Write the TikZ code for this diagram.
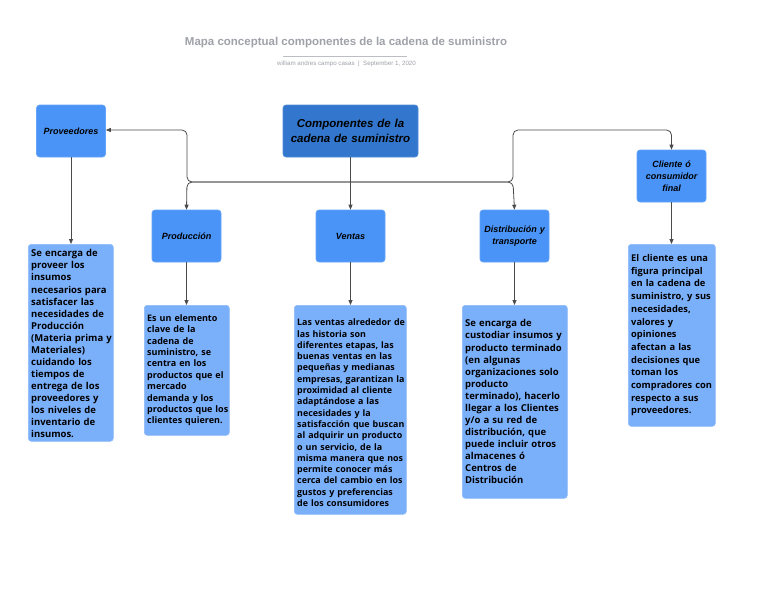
\documentclass[tikz,border=0pt]{standalone}
\usepackage{fontspec}
\setmainfont{Liberation Sans}
\newfontfamily\bodyfont{Open Sans}
\usetikzlibrary{arrows.meta}
\definecolor{hdrblue}{RGB}{74,148,247}
\definecolor{mainblue}{RGB}{50,119,205}
\definecolor{txtblue}{RGB}{122,175,250}
\definecolor{linegray}{RGB}{75,75,75}
\definecolor{titlegray}{RGB}{160,162,170}
\begin{document}
\begin{tikzpicture}[x=1pt,y=-1pt,
  hdr/.style={draw=hdrblue!85!white, line width=0.6pt, fill=hdrblue, rounded corners=3pt, minimum width=69pt, minimum height=52pt, inner sep=2pt, align=center, font=\fontsize{9}{12}\selectfont\bfseries\itshape, text width=64pt},
  mainbox/.style={draw=mainblue!85!white, line width=0.6pt, fill=mainblue, rounded corners=3pt, minimum width=135pt, minimum height=52pt, inner sep=2pt, align=center, font=\fontsize{11.5}{15}\selectfont\bfseries\itshape, text width=130pt},
  tbox/.style={draw=txtblue!85!white, line width=0.6pt, fill=txtblue, rounded corners=3pt, inner sep=0pt, anchor=north west},
  txt/.style={inner sep=0pt, anchor=west, align=left, text width=140pt},
  fa/.style={font=\bodyfont\fontsize{9.5}{12.07}\selectfont\bfseries},
  fb/.style={font=\bodyfont\fontsize{9.0}{11.4}\selectfont\bfseries},
  fc/.style={font=\bodyfont\fontsize{8.9}{11.3}\selectfont\bfseries},
  fd/.style={font=\bodyfont\fontsize{9.3}{12.7}\selectfont\bfseries},
  conn/.style={draw=linegray, line width=0.8pt, rounded corners=5pt},
  arr/.style={conn, -{Triangle[length=5pt,width=4pt]}}
]
\useasboundingbox (0,0) rectangle (768,594);
\fill[white] (0,0) rectangle (768,594);

% title
\node[font=\fontsize{11.5}{13}\selectfont\bfseries, text=titlegray] (title) at (346,43) {Mapa conceptual componentes de la cadena de suministro};
\draw[titlegray!70, line width=0.6pt] (283,56) -- (407,56);
\node[font=\fontsize{6.2}{7}\selectfont, text=titlegray] (sub) at (346.5,64) {william andres campo casas\ \ |\ \ September 1, 2020};

% header boxes
\node[mainbox] (comp) at (350.5,131) {Componentes de la\\cadena de suministro};
\node[hdr] (prov) at (71,131) {Proveedores};
\node[hdr] (prod) at (186.5,236) {Producción};
\node[hdr] (vent) at (350.5,236) {Ventas};
\node[hdr] (dist) at (514.5,236) {Distribución y\\transporte};
\node[hdr] (cli) at (671.5,176) {Cliente ó\\consumidor\\final};

% text boxes
\node[tbox, minimum width=85pt, minimum height=197pt] (provT) at (28,244) {};
\node[txt, fa] (provX) at ([xshift=3pt,yshift=-1pt]provT.west) {Se encarga de\\proveer los\\insumos\\necesarios para\\satisfacer las\\necesidades de\\Producción\\(Materia prima y\\Materiales)\\cuidando los\\tiempos de\\entrega de los\\proveedores y\\los niveles de\\inventario de\\insumos.};
\node[tbox, minimum width=85pt, minimum height=130pt] (prodT) at (144,305) {};
\node[txt, fb] (prodX) at ([xshift=3pt]prodT.west) {Es un elemento\\clave de la\\cadena de\\suministro, se\\centra en los\\productos que el\\mercado\\demanda y los\\productos que los\\clientes quieren.};
\node[tbox, minimum width=112pt, minimum height=209pt] (ventT) at (294,305) {};
\node[txt, fc] (ventX) at ([xshift=3pt,yshift=-3pt]ventT.west) {Las ventas alrededor de\\las historia son\\diferentes etapas, las\\buenas ventas en las\\pequeñas y medianas\\empresas, garantizan la\\proximidad al cliente\\adaptándose a las\\necesidades y la\\satisfacción que buscan\\al adquirir un producto\\o un servicio, de la\\misma manera que nos\\permite conocer más\\cerca del cambio en los\\gustos y preferencias\\de los consumidores};
\node[tbox, minimum width=105pt, minimum height=193pt] (distT) at (462,305) {};
\node[txt, fa] (distX) at ([xshift=3pt]distT.west) {Se encarga de\\custodiar insumos y\\producto terminado\\(en algunas\\organizaciones solo\\producto\\terminado), hacerlo\\llegar a los Clientes\\y/o a su red de\\distribución, que\\puede incluir otros\\almacenes ó\\Centros de\\Distribución};
\node[tbox, minimum width=87pt, minimum height=182pt] (cliT) at (628,244) {};
\node[txt, fd] (cliX) at ([xshift=3pt]cliT.west) {El cliente es una\\figura principal\\en la cadena de\\suministro, y sus\\necesidades,\\valores y\\opiniones\\afectan a las\\decisiones que\\toman los\\compradores con\\respecto a sus\\proveedores.};

% connectors
\coordinate (j) at (350.5,182);
\coordinate (jl) at (187,182);
\coordinate (jr) at (513,182);
\coordinate (tl) at (187,130);
\coordinate (tr) at (513,130);
\coordinate (tc) at (671.5,130);
\draw[arr] (comp.south) -- (vent.north);
\draw[arr] (j) -- (jl) -- (tl) -- (prov.east |- tl);
\draw[arr] (j) -- (jl) -- (prod.north);
\draw[arr] (j) -- (jr) -- (tr) -- (tc) -- (cli.north);
\draw[arr] (j) -- (jr) -- (dist.north);
\draw[arr] (prov.south) -- (provT.north -| prov.south);
\draw[arr] (prod.south) -- (prodT.north -| prod.south);
\draw[arr] (vent.south) -- (ventT.north -| vent.south);
\draw[arr] (dist.south) -- (distT.north -| dist.south);
\draw[arr] (cli.south) -- (cliT.north -| cli.south);
\end{tikzpicture}
\end{document}
